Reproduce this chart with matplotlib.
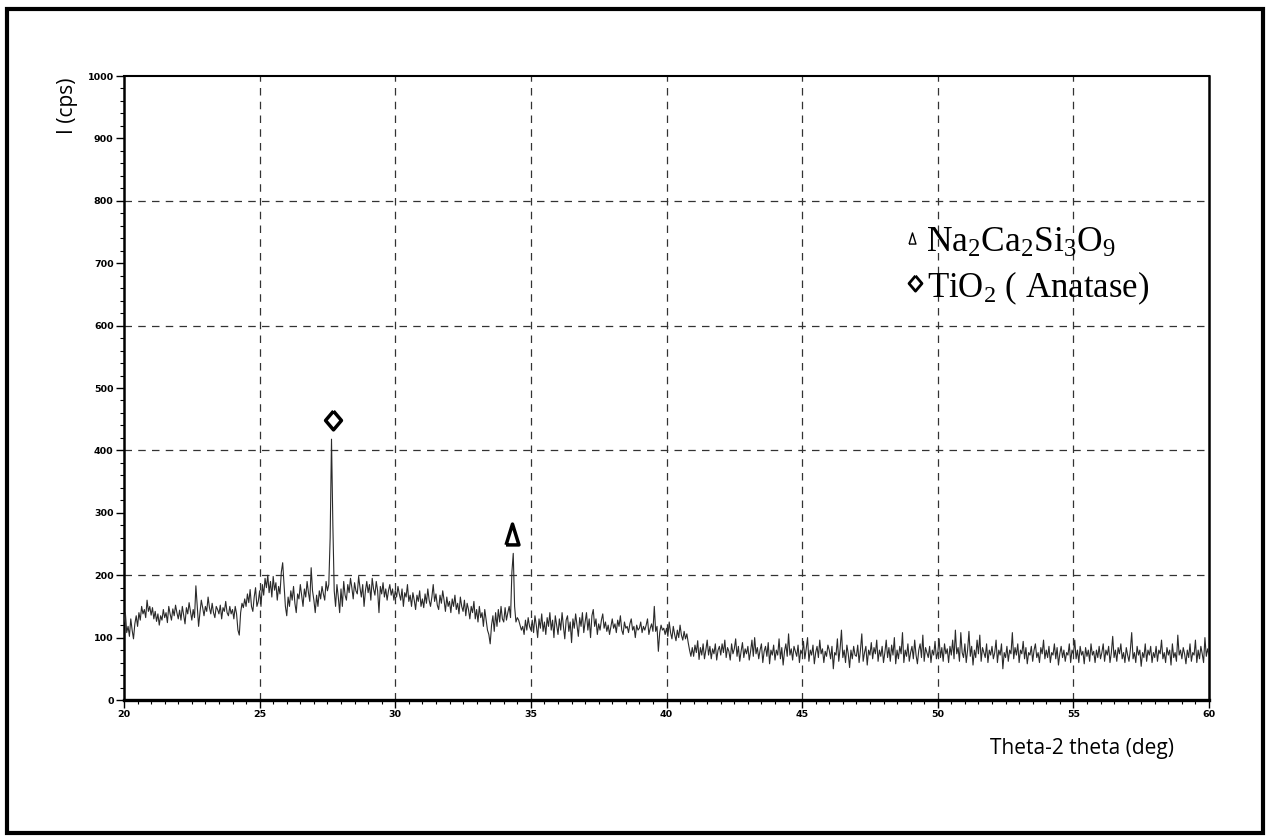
import numpy as np
import matplotlib
matplotlib.use("Agg")
import matplotlib.pyplot as plt
from matplotlib.ticker import MultipleLocator
from matplotlib.lines import Line2D
from matplotlib.patches import Rectangle

plt.rcParams['mathtext.fontset'] = 'custom'
plt.rcParams['mathtext.rm'] = 'Liberation Serif'
plt.rcParams['mathtext.it'] = 'Liberation Serif:italic'

# ---- data: intensity (cps), one row per degree (20 samples per degree) ----
seg_20_25 = [
    [125, 140, 108, 118, 102, 130, 112, 98, 122, 135, 118, 140, 128, 150, 138, 145, 132, 160, 142, 150],
    [136, 148, 130, 142, 126, 138, 120, 135, 128, 145, 132, 140, 124, 150, 138, 128, 146, 135, 152, 140],
    [130, 144, 128, 150, 136, 122, 148, 138, 156, 142, 128, 145, 132, 183, 150, 118, 140, 160, 148, 135],
    [150, 142, 165, 148, 138, 155, 140, 132, 150, 145, 138, 152, 130, 148, 142, 158, 140, 135, 150, 138],
    [145, 130, 150, 138, 112, 104, 140, 155, 148, 162, 150, 170, 156, 177, 150, 142, 165, 180, 150, 158],
]
seg_25_30 = [
    [175, 150, 185, 168, 195, 180, 200, 172, 190, 165, 198, 176, 188, 160, 182, 170, 205, 220, 185, 150],
    [135, 165, 150, 175, 160, 182, 155, 140, 170, 162, 185, 168, 150, 178, 165, 190, 172, 158, 212, 175],
    [160, 140, 168, 150, 175, 162, 182, 170, 160, 190, 175, 185, 260, 418, 280, 175, 150, 185, 165, 140],
    [178, 150, 190, 168, 160, 185, 172, 195, 180, 162, 188, 175, 170, 198, 180, 165, 185, 150, 175, 190],
    [172, 185, 160, 195, 178, 168, 190, 175, 140, 182, 170, 188, 165, 178, 160, 175, 185, 168, 178, 160],
]
seg_30_35 = [
    [175, 165, 182, 170, 160, 178, 150, 172, 165, 185, 158, 168, 150, 172, 160, 145, 168, 158, 175, 150],
    [162, 148, 170, 155, 178, 160, 150, 165, 185, 158, 170, 152, 145, 168, 155, 175, 160, 142, 165, 150],
    [158, 140, 162, 150, 168, 145, 155, 138, 165, 150, 142, 160, 135, 155, 145, 130, 150, 140, 158, 130],
    [145, 125, 150, 132, 140, 118, 145, 128, 112, 105, 90, 120, 135, 110, 140, 118, 145, 125, 150, 130],
    [125, 148, 128, 140, 150, 132, 205, 235, 150, 125, 132, 128, 120, 112, 118, 105, 128, 112, 132, 118],
]
seg_35_40 = [
    [112, 128, 108, 135, 120, 100, 130, 115, 138, 110, 125, 105, 132, 118, 140, 112, 128, 100, 135, 120],
    [105, 130, 112, 140, 118, 98, 128, 135, 110, 125, 92, 130, 115, 138, 120, 102, 132, 118, 140, 108],
    [125, 140, 112, 130, 100, 135, 145, 118, 130, 105, 122, 112, 128, 138, 115, 125, 110, 120, 105, 118],
    [130, 115, 122, 108, 128, 118, 135, 112, 105, 125, 115, 118, 108, 122, 130, 112, 118, 100, 120, 112],
    [115, 125, 108, 118, 112, 120, 130, 105, 115, 122, 110, 150, 110, 118, 78, 108, 120, 112, 115, 105],
]
seg_40_45 = [
    [115, 102, 125, 108, 98, 118, 105, 95, 112, 100, 120, 104, 96, 110, 98, 106, 92, 80, 70, 84],
    [70, 88, 76, 95, 65, 84, 72, 90, 66, 80, 96, 72, 86, 66, 82, 74, 90, 64, 80, 86],
    [72, 90, 76, 96, 68, 84, 78, 64, 90, 74, 82, 98, 70, 86, 62, 78, 92, 68, 82, 74],
    [86, 64, 78, 96, 70, 100, 74, 84, 66, 80, 90, 60, 78, 86, 70, 92, 58, 80, 72, 88],
    [64, 80, 72, 98, 66, 84, 56, 78, 90, 70, 106, 72, 82, 64, 86, 78, 70, 88, 60, 80],
]
seg_45_50 = [
    [74, 94, 66, 82, 100, 62, 80, 72, 88, 58, 76, 86, 68, 96, 74, 82, 60, 78, 70, 88],
    [80, 66, 86, 50, 76, 72, 98, 62, 82, 112, 68, 80, 60, 88, 74, 52, 80, 66, 86, 72],
    [70, 88, 60, 80, 106, 62, 76, 86, 56, 80, 72, 92, 66, 84, 74, 96, 62, 80, 70, 86],
    [60, 76, 96, 68, 84, 62, 88, 72, 100, 58, 80, 66, 86, 74, 108, 60, 80, 70, 90, 62],
    [76, 86, 66, 96, 72, 58, 80, 90, 68, 104, 62, 84, 76, 68, 86, 60, 80, 72, 94, 66],
]
seg_50_55 = [
    [76, 98, 68, 84, 62, 90, 74, 82, 60, 86, 72, 96, 66, 112, 74, 84, 62, 108, 76, 68],
    [90, 60, 80, 110, 70, 86, 56, 80, 68, 96, 74, 104, 62, 84, 76, 68, 90, 60, 80, 72],
    [86, 66, 76, 96, 60, 80, 72, 90, 50, 76, 68, 86, 62, 80, 74, 108, 66, 84, 72, 90],
    [60, 80, 74, 94, 66, 84, 58, 76, 72, 86, 62, 80, 90, 68, 76, 60, 84, 74, 96, 66],
    [80, 68, 86, 60, 76, 72, 90, 66, 84, 56, 74, 86, 68, 80, 62, 76, 72, 90, 60, 80],
]
seg_55_60 = [
    [74, 96, 66, 80, 60, 86, 72, 78, 58, 84, 70, 80, 62, 90, 72, 78, 60, 80, 68, 86],
    [66, 76, 90, 62, 80, 72, 86, 60, 76, 102, 68, 80, 62, 84, 74, 90, 66, 76, 60, 84],
    [72, 62, 80, 108, 66, 76, 60, 86, 72, 80, 54, 76, 68, 90, 62, 80, 72, 86, 60, 76],
    [68, 86, 62, 80, 74, 96, 66, 76, 60, 84, 72, 80, 56, 90, 68, 76, 62, 104, 72, 80],
    [66, 84, 74, 58, 80, 68, 90, 62, 76, 72, 96, 60, 80, 66, 86, 74, 60, 100, 70, 82],
]
end_value = [72]

x_ticks = [20, 25, 30, 35, 40, 45, 50, 55, 60]
y_ticks = [0, 100, 200, 300, 400, 500, 600, 700, 800, 900, 1000]
grid_x = [25, 30, 35, 40, 45, 50, 55]
grid_y = [200, 400, 600, 800]

anatase_peak = (27.71, 449)   # diamond label
silicate_peak = (34.32, 266)  # triangle label

# ---- build series ----
segments = [seg_20_25, seg_25_30, seg_30_35, seg_35_40,
            seg_40_45, seg_45_50, seg_50_55, seg_55_60]
xs, ys = [], []
deg = 20
for seg in segments:
    for row in seg:
        xs.extend(np.linspace(deg, deg + 1, len(row), endpoint=False))
        ys.extend(row)
        deg += 1
xs.append(60.0)
ys.extend(end_value)

# ---- figure ----
fig = plt.figure(figsize=(12.68, 8.38), dpi=100)
ax = fig.add_axes([124 / 1268, 1 - 700 / 838, (1209 - 124) / 1268, (700 - 76) / 838])

for gx in grid_x:
    ax.axvline(gx, color='#333333', lw=0.9, ls=(0, (6, 5)), zorder=1)
for gy in grid_y:
    ax.axhline(gy, color='#333333', lw=0.9, ls=(0, (6, 5)), zorder=1)

ax.plot(xs, ys, color='#2a2a2a', lw=0.8, zorder=3)

ax.set_xlim(20, 60)
ax.set_ylim(0, 1000)
ax.set_xticks(x_ticks)
ax.set_yticks(y_ticks)
ax.xaxis.set_minor_locator(MultipleLocator(0.5))
ax.yaxis.set_minor_locator(MultipleLocator(20))
ax.tick_params(which='major', direction='out', length=5.5, width=1, pad=2,
               labelsize=6.8, colors='black')
ax.tick_params(which='minor', direction='out', length=3, width=0.8)
for lab in ax.get_xticklabels() + ax.get_yticklabels():
    lab.set_fontweight('bold')

ax.spines['left'].set_linewidth(1.8)
ax.spines['bottom'].set_linewidth(2.4)
ax.spines['top'].set_linewidth(1.5)
ax.spines['right'].set_linewidth(1.8)

# peak labels
tri = [(-0.62, -1), (0.62, -1), (0, 1), (-0.62, -1)]
dia = [(0, 1), (0.85, 0), (0, -1), (-0.85, 0), (0, 1)]
ax.plot([anatase_peak[0]], [anatase_peak[1]], marker=dia, markersize=13.5,
        mfc='white', mec='black', mew=2.5, ls='none', zorder=5)
ax.plot([silicate_peak[0]], [silicate_peak[1]], marker=tri, markersize=15,
        mfc='white', mec='black', mew=2.5, ls='none', zorder=5)

# axis titles
fig.text(67 / 1268, 1 - 106 / 838, 'I (cps)', rotation=90, ha='center', va='center',
         fontsize=15, family='Open Sans')
fig.text(1082 / 1268, 1 - 748 / 838, 'Theta-2 theta (deg)', ha='center', va='center',
         fontsize=15, family='Open Sans')

# legend-like annotations
fig.add_artist(Line2D([912 / 1268], [1 - 238 / 838], transform=fig.transFigure,
                      marker=tri, markersize=8, mfc='white', mec='black', mew=1, ls='none'))
fig.text(926 / 1268, 1 - 252 / 838, 'Na$_2$Ca$_2$Si$_3$O$_9$', ha='left', va='baseline',
         fontsize=25.5, family='Liberation Serif')
fig.add_artist(Line2D([915 / 1268], [1 - 283 / 838], transform=fig.transFigure,
                      marker=dia, markersize=11, mfc='white', mec='black', mew=2, ls='none'))
fig.text(927 / 1268, 1 - 297 / 838, 'TiO$_2$ ( Anatase)', ha='left', va='baseline',
         fontsize=25, family='Liberation Serif')

# page frame
fig.add_artist(Rectangle((7 / 1268, 5 / 838), (1263 - 7) / 1268, (829 - 5) / 838,
                         transform=fig.transFigure, fill=False, edgecolor='black', lw=3))

fig.savefig('out.png', dpi=100, facecolor='white')
